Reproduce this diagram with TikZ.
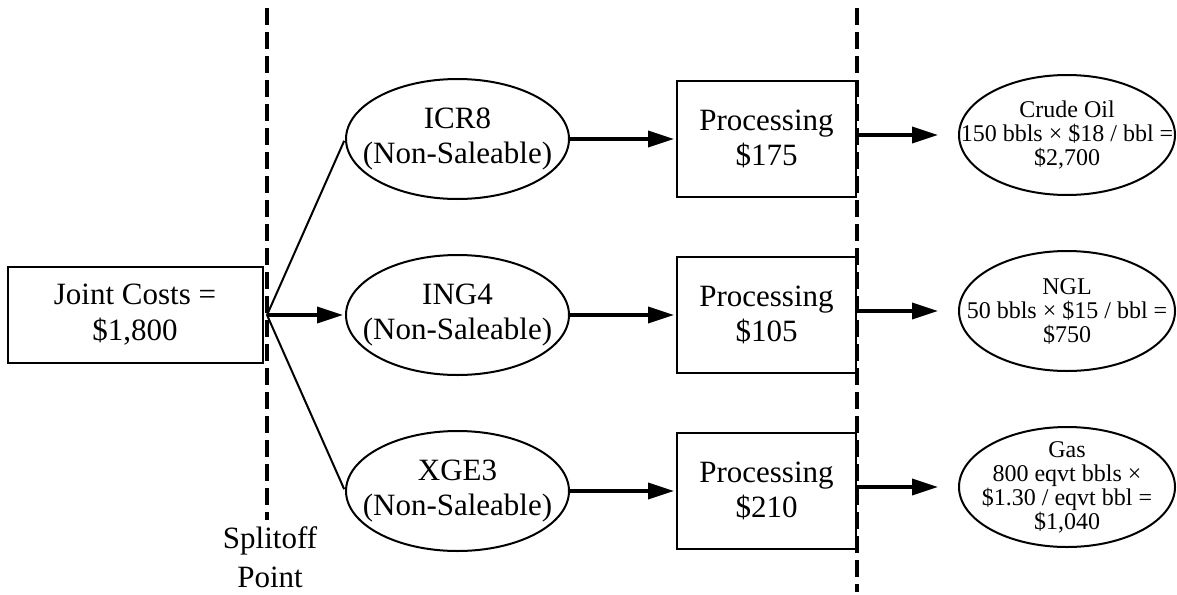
\documentclass[tikz,border=0pt]{standalone}
\usepackage{fontspec}
\setmainfont{Liberation Serif}
\usetikzlibrary{shapes.geometric,positioning,arrows.meta}

\begin{document}
\begin{tikzpicture}[x=0.5pt,y=-0.5pt,shorten >=1pt,node distance=88pt,on grid,
    >={Triangle[length=13pt,width=8pt]}]
  \tikzstyle{cost}=[rectangle,draw,line width=1pt,minimum width=127.5pt,
                    minimum height=48pt,align=center,font=\fontsize{15.5}{18}\selectfont]
  \tikzstyle{product}=[ellipse,draw,line width=1pt,minimum width=111.5pt,
                       minimum height=60pt,inner sep=0pt]
  \tikzstyle{process}=[rectangle,draw,line width=1pt,minimum width=89.5pt,
                       minimum height=58pt,align=center,font=\fontsize{15.5}{17.5}\selectfont]
  \tikzstyle{sale}=[ellipse,draw,line width=1pt,minimum width=108pt,
                    minimum height=60pt,inner sep=0pt,yshift=2pt]
  \tikzstyle{bigtext}=[align=center,font=\fontsize{15.5}{17.5}\selectfont]
  \tikzstyle{smalltext}=[align=center,font=\fontsize{12}{12}\selectfont]
  \tikzstyle{splitline}=[line width=2pt,dash pattern=on 8.5pt off 3.5pt]
  \tikzstyle{flow}=[->,line width=1.75pt]
  \tikzstyle{branch}=[line width=1pt]

  \useasboundingbox (0,0) rectangle (1177,594);

  \node[cost] (joint) at (135,315) {Joint Costs =\\\$1,800};

  \node[product,label={[bigtext]center:ING4\\(Non-Saleable)}] (ing4) [right=161.25pt of joint] {};
  \node[product,label={[bigtext]center:ICR8\\(Non-Saleable)}] (icr8) [above=88pt of ing4] {};
  \node[product,label={[bigtext]center:XGE3\\(Non-Saleable)}] (xge3) [below=88pt of ing4] {};

  \node[process] (proc1) [right=154.5pt of icr8] {Processing\\\$175};
  \node[process] (proc2) [right=154.5pt of ing4] {Processing\\\$105};
  \node[process] (proc3) [right=154.5pt of xge3] {Processing\\\$210};

  \node[sale,label={[smalltext]center:Crude Oil\\150 bbls × \$18 / bbl =\\\$2,700}] (crude) [right=150.25pt of proc1] {};
  \node[sale,label={[smalltext]center:NGL\\50 bbls × \$15 / bbl =\\\$750}] (ngl) [right=150.25pt of proc2] {};
  \node[sale,label={[smalltext]center:Gas\\800 eqvt bbls ×\\\$1.30 / eqvt bbl =\\\$1,040}] (gas) [right=150.25pt of proc3] {};

  % splitoff and separation lines
  \draw[splitline] (267,8) -- (267,522);
  \draw[splitline] (857,8) -- (857,594);
  \node[bigtext,font=\fontsize{15.5}{19.5}\selectfont] (splitoff) at (270,557) {Splitoff\\Point};
  \coordinate (split) at (267,315);

  \path[branch] (split) edge (icr8.west);
  \path[branch] (split) edge (xge3.west);
  \path[flow] (split) edge (ing4.west);

  \path[flow] (icr8) edge (proc1);
  \path[flow] (ing4) edge (proc2);
  \path[flow] (xge3) edge (proc3);

  \path[flow,shorten >=10pt] ([yshift=2pt]proc1.east) edge (crude.west);
  \path[flow,shorten >=10pt] ([yshift=2pt]proc2.east) edge (ngl.west);
  \path[flow,shorten >=10pt] ([yshift=2pt]proc3.east) edge (gas.west);
\end{tikzpicture}
\end{document}
